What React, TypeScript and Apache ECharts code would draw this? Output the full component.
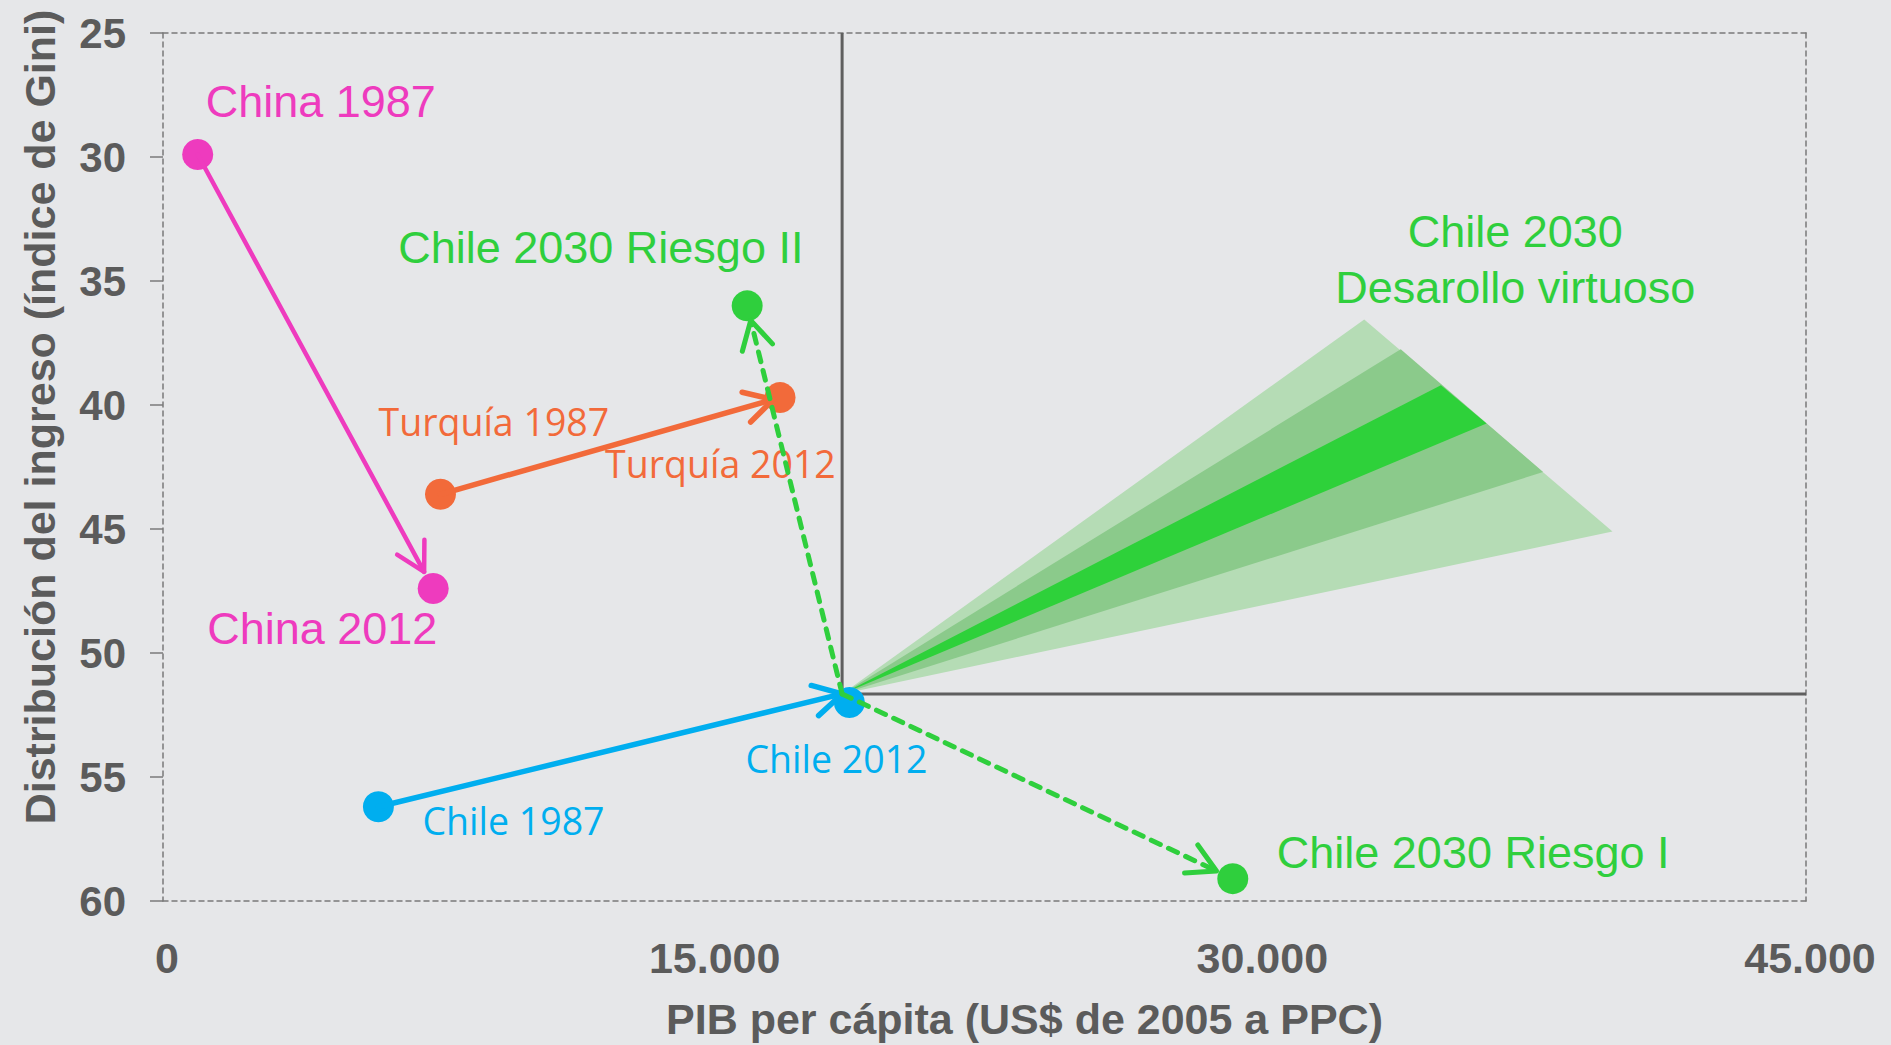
import React, { useEffect, useRef } from 'react';
import * as echarts from 'echarts';

// ---------- data ----------
const xTickLabels = ['0', '15.000', '30.000', '45.000'];
const xAxisTitle = 'PIB per cápita (US$ de 2005 a PPC)';
const yAxisTitle = 'Distribución del ingreso (índice de Gini)';

const pointNames = ['China 1987', 'China 2012', 'Turquía 1987', 'Turquía 2012', 'Chile 1987', 'Chile 2012', 'Chile 2030 Riesgo II', 'Chile 2030 Riesgo I'];
const pointGroup = ['china', 'china', 'turquia', 'turquia', 'chile', 'chile', 'chile2030', 'chile2030'];
const pointX = [950, 7400, 7600, 16900, 5900, 18800, 16000, 29300];
const pointY = [29.9, 47.4, 43.6, 39.7, 56.2, 52.0, 36.0, 59.1];

// Chile 2012 reference cross (quadrant origin)
const crosshairX = [18600, 18600, 45000];
const crosshairY = [25, 51.65, 51.65];

// "Desarrollo virtuoso" fan (outer -> inner)
const fanTopX = [32900, 33900, 35000];
const fanTopY = [36.55, 37.75, 39.2];
const fanBottomX = [39700, 37800, 36250];
const fanBottomY = [45.1, 42.7, 40.75];
const fanLabel = 'Chile 2030\nDesarollo virtuoso';

// trajectories
const arrowFromX = [950, 7600, 5900, 18600, 18600];
const arrowFromY = [29.9, 43.6, 56.2, 51.65, 51.65];
const arrowToX = [7400, 16900, 18600, 16000, 29300];
const arrowToY = [47.4, 39.7, 51.65, 36.0, 59.1];

// ---------- styles ----------
const BG = '#e6e7e9';
const AXIS_TEXT = '#5b5b5b';
const AXIS_LINE = '#7a7a7a';
const SANS = "'Liberation Sans', Arial, Helvetica, sans-serif";
const HUMAN = "'Open Sans', 'Noto Sans', sans-serif";
const groupColor: Record<string, string> = {
  china: '#ee3bbe',
  turquia: '#f26a3a',
  chile: '#00aeef',
  chile2030: '#2fcf3d',
};
const labelStyle = [
  { dx: 8, dy: -53, font: SANS, size: 45 },
  { dx: -226, dy: 39.5, font: SANS, size: 45 },
  { dx: -62, dy: -73, font: HUMAN, size: 37.5 },
  { dx: -175, dy: 66, font: HUMAN, size: 37.5 },
  { dx: 44, dy: 13.5, font: HUMAN, size: 37.5 },
  { dx: -104, dy: 56, font: HUMAN, size: 37.5 },
  { dx: -349, dy: -58, font: SANS, size: 45 },
  { dx: 44, dy: -26, font: SANS, size: 45 },
];
const arrowStyle = [
  { color: '#ee3bbe', width: 4.5, pull: 19, dash: null as number[] | null },
  { color: '#f26a3a', width: 5.5, pull: 7, dash: null },
  { color: '#00aeef', width: 5.5, pull: 0, dash: null },
  { color: '#2fcf3d', width: 5, pull: 15, dash: [10, 9] },
  { color: '#2fcf3d', width: 5, pull: 18, dash: [10, 9] },
];
const fanColors = ['#b5dcb5', '#8bca8b', '#2ed13a'];
const HEAD_LEN = 32;
const HEAD_ANGLE = (29 * Math.PI) / 180;

const dashedAxisLine = { show: true, onZero: false, lineStyle: { color: AXIS_LINE, width: 1.5, type: [5, 4] } };

function buildOption() {
  const groups = ['china', 'turquia', 'chile', 'chile2030'];
  const scatterSeries = groups.map((g) => ({
    type: 'scatter',
    name: g,
    z: 3,
    symbol: 'circle',
    symbolSize: 31,
    itemStyle: { color: groupColor[g], opacity: 1 },
    data: pointNames
      .map((n, i) => ({ n, i }))
      .filter(({ i }) => pointGroup[i] === g)
      .map(({ n, i }) => ({
        name: n,
        value: [pointX[i], pointY[i]],
        label: {
          show: true,
          position: 'inside',
          offset: [labelStyle[i].dx, labelStyle[i].dy],
          align: 'left',
          verticalAlign: 'middle',
          formatter: '{b}',
          color: groupColor[g],
          fontSize: labelStyle[i].size,
          lineHeight: labelStyle[i].size,
          fontFamily: labelStyle[i].font,
          textBorderWidth: 0,
        },
      })),
  }));

  const fanData = fanTopX.map((_, i) => [fanTopX[i], fanTopY[i], fanBottomX[i], fanBottomY[i]]);
  const arrowData = arrowFromX.map((_, i) => [arrowFromX[i], arrowFromY[i], arrowToX[i], arrowToY[i]]);

  return {
    animation: false,
    backgroundColor: BG,
    grid: { left: 163, right: 85, top: 33, bottom: 137, containLabel: false },
    xAxis: [
      {
        type: 'value',
        position: 'bottom',
        min: 0,
        max: 45000,
        interval: 15000,
        axisLine: dashedAxisLine,
        axisTick: { show: false },
        splitLine: { show: false },
        axisLabel: {
          margin: 35,
          fontSize: 43,
          fontWeight: 'bold',
          color: AXIS_TEXT,
          fontFamily: SANS,
          padding: [0, 0, 0, 8],
          formatter: (v: number) => xTickLabels[Math.round(v / 15000)] ?? '',
        },
        name: xAxisTitle,
        nameLocation: 'middle',
        nameGap: 96,
        nameTextStyle: { fontSize: 43, fontWeight: 'bold', color: AXIS_TEXT, fontFamily: SANS, padding: [0, 0, 0, 80] },
      },
      {
        type: 'value',
        position: 'top',
        min: 0,
        max: 45000,
        interval: 15000,
        axisLine: dashedAxisLine,
        axisTick: { show: false },
        axisLabel: { show: false },
        splitLine: { show: false },
      },
    ],
    yAxis: [
      {
        type: 'value',
        position: 'left',
        inverse: true,
        min: 25,
        max: 60,
        interval: 5,
        axisLine: dashedAxisLine,
        axisTick: { show: true, length: 13, lineStyle: { color: AXIS_LINE, width: 1.5 } },
        splitLine: { show: false },
        axisLabel: { margin: 37, fontSize: 42, fontWeight: 'bold', color: AXIS_TEXT, fontFamily: SANS },
        name: yAxisTitle,
        nameLocation: 'middle',
        nameRotate: 90,
        nameGap: 102,
        nameTextStyle: { fontSize: 43, fontWeight: 'bold', color: AXIS_TEXT, fontFamily: SANS, padding: [0, 0, 0, 100] },
      },
      {
        type: 'value',
        position: 'right',
        inverse: true,
        min: 25,
        max: 60,
        interval: 5,
        axisLine: dashedAxisLine,
        axisTick: { show: false },
        axisLabel: { show: false },
        splitLine: { show: false },
      },
    ],
    series: [
      {
        type: 'custom',
        name: 'fan',
        z: 1,
        clip: false,
        encode: { x: [0, 2], y: [1, 3] },
        data: fanData,
        renderItem: (params: any, api: any) => {
          const apex = api.coord([crosshairX[1], crosshairY[1]]);
          const top = api.coord([api.value(0), api.value(1)]);
          const bot = api.coord([api.value(2), api.value(3)]);
          const children: any[] = [
            {
              type: 'polygon',
              shape: { points: [apex, top, bot] },
              style: { fill: fanColors[params.dataIndex], stroke: 'none' },
            },
          ];
          if (params.dataIndex === 0) {
            children.push({
              type: 'text',
              x: top[0] + 151,
              y: top[1] - 60,
              style: {
                text: fanLabel,
                fill: groupColor.chile2030,
                fontSize: 45,
                fontFamily: SANS,
                align: 'center',
                verticalAlign: 'middle',
                lineHeight: 56,
              },
            });
          }
          return { type: 'group', children };
        },
      },
      {
        type: 'line',
        name: 'cross',
        z: 2,
        symbol: 'none',
        silent: true,
        lineStyle: { color: '#5f5f5f', width: 3 },
        data: crosshairX.map((x, i) => [x, crosshairY[i]]),
      },
      ...scatterSeries,
      {
        type: 'custom',
        name: 'arrows',
        z: 4,
        clip: false,
        encode: { x: [0, 2], y: [1, 3] },
        data: arrowData,
        renderItem: (params: any, api: any) => {
          const st = arrowStyle[params.dataIndex];
          const p0 = api.coord([api.value(0), api.value(1)]);
          const p1 = api.coord([api.value(2), api.value(3)]);
          const dx = p1[0] - p0[0];
          const dy = p1[1] - p0[1];
          const len = Math.hypot(dx, dy) || 1;
          const ux = dx / len;
          const uy = dy / len;
          const tip = [p1[0] - ux * st.pull, p1[1] - uy * st.pull];
          const ang = Math.atan2(uy, ux);
          const a1 = ang + Math.PI - HEAD_ANGLE;
          const a2 = ang + Math.PI + HEAD_ANGLE;
          const h1 = [tip[0] + Math.cos(a1) * HEAD_LEN, tip[1] + Math.sin(a1) * HEAD_LEN];
          const h2 = [tip[0] + Math.cos(a2) * HEAD_LEN, tip[1] + Math.sin(a2) * HEAD_LEN];
          return {
            type: 'group',
            children: [
              {
                type: 'line',
                shape: { x1: p0[0], y1: p0[1], x2: tip[0], y2: tip[1] },
                style: { stroke: st.color, lineWidth: st.width, lineDash: st.dash || undefined, lineCap: 'round', fill: 'none' },
              },
              {
                type: 'polyline',
                shape: { points: [h1, tip, h2] },
                style: { stroke: st.color, lineWidth: st.width, lineCap: 'round', lineJoin: 'round', fill: 'none' },
              },
            ],
          };
        },
      },
    ],
  };
}

export default function App() {
  const ref = useRef<HTMLDivElement>(null);
  useEffect(() => {
    document.body.style.margin = '0';
    document.body.style.background = BG;
    if (!ref.current) return;
    const chart = echarts.init(ref.current, null, { renderer: 'svg' });
    chart.setOption(buildOption() as any);
    return () => chart.dispose();
  }, []);
  return (
    <div
      ref={ref}
      style={{ position: 'fixed', left: 0, top: 0, width: 1891, height: 1045, background: BG }}
    />
  );
}
